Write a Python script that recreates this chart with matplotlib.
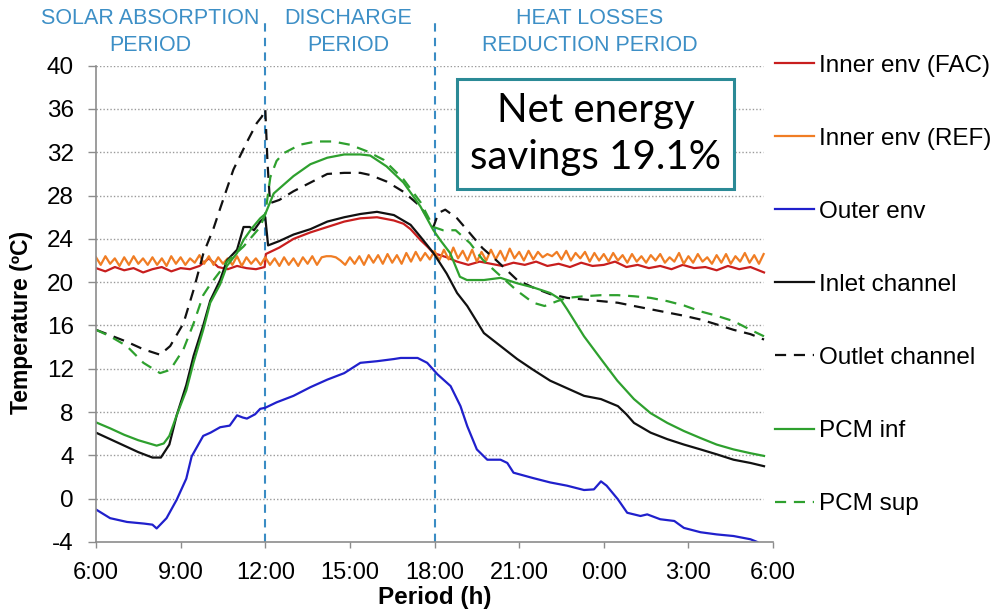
import numpy as np
import matplotlib
matplotlib.use('Agg')
import matplotlib.pyplot as plt

plt.rcParams['font.family'] = ['Liberation Sans', 'DejaVu Sans']
plt.rcParams['axes.unicode_minus'] = False

# time in hours after 6:00
x_ticks = [0, 3, 6, 9, 12, 15, 18, 21, 24]
x_labels = ['6:00', '9:00', '12:00', '15:00', '18:00', '21:00', '0:00', '3:00', '6:00']
y_ticks = list(range(-4, 41, 4))

fac_h = [0, 0.33, 0.67, 1.0, 1.33, 1.67, 2.0, 2.33, 2.67, 3.0, 3.33, 3.67, 4.0, 4.33, 4.67,
         5.0, 5.33, 5.67, 5.98, 6.02, 6.5, 7.0, 7.6, 8.2, 8.8, 9.37, 9.96, 10.56, 10.9,
         11.15, 11.5, 11.74, 11.96, 12.43, 12.8, 13.2, 13.6, 14.0, 14.4, 14.8, 15.2, 15.6,
         16.0, 16.4, 16.8, 17.2, 17.6, 18.0, 18.4, 18.8, 19.2, 19.6, 20.0, 20.4, 20.8,
         21.2, 21.6, 22.0, 22.4, 22.8, 23.2, 23.68]
fac_t = [21.3, 21.0, 21.4, 21.1, 21.3, 20.9, 21.2, 21.4, 21.0, 21.3, 21.2, 21.5, 22.2, 21.4,
         21.2, 21.5, 21.3, 21.2, 21.4, 22.6, 23.2, 24.0, 24.6, 25.1, 25.6, 25.9, 26.0, 25.7,
         25.4, 24.9, 23.9, 23.3, 22.7, 22.3, 21.9, 21.6, 21.9, 21.7, 21.5, 21.8, 21.6, 21.9,
         21.5, 21.7, 21.4, 21.8, 21.5, 21.6, 21.9, 21.4, 21.6, 21.3, 21.5, 21.2, 21.6, 21.3,
         21.4, 21.1, 21.5, 21.2, 21.4, 20.9]

# 10-minute samples
ref_t = [22.3, 21.6, 22.4, 21.7, 22.2, 21.5, 22.3, 21.6, 22.4, 21.7, 22.2, 21.6,
         22.3, 21.6, 22.2, 21.5, 22.4, 21.7, 22.3, 21.6, 22.2, 21.8, 22.5, 21.7,
         22.4, 21.6, 22.3, 21.7, 22.2, 21.6, 22.4, 21.5, 22.3, 21.7, 22.2, 21.6,
         22.3, 21.6, 22.2, 21.5, 22.3, 21.6, 22.2, 21.5, 22.3, 21.7, 22.4, 21.6,
         22.3, 22.4, 22.4, 22.3, 22.0, 21.6, 22.3, 21.7, 22.4, 21.6, 22.5, 21.8,
         22.5, 21.7, 22.6, 21.8, 22.5, 21.7, 22.7, 21.9, 22.8, 22.0, 22.7, 22.1,
         22.9, 22.0, 23.0, 22.1, 23.2, 22.2, 22.9, 22.0, 23.0, 21.9, 22.8, 22.0,
         23.0, 22.1, 22.9, 22.0, 23.1, 22.2, 22.8, 22.0, 22.9, 22.1, 22.8, 22.3,
         22.6, 22.4, 22.8, 22.1, 22.9, 22.0, 22.7, 22.2, 22.8, 21.9, 22.7, 22.0,
         22.6, 21.9, 22.7, 22.0, 22.5, 21.8, 22.6, 21.9, 22.4, 21.8, 22.5, 22.0,
         22.6, 21.8, 22.3, 21.9, 22.7, 21.7, 22.4, 21.8, 22.6, 21.9, 22.3, 21.7,
         22.5, 21.8, 22.6, 21.7, 22.4, 21.9, 22.7, 21.8, 22.5, 21.7, 22.6]
ref_h = np.arange(len(ref_t)) / 6

outer_h = [0, 0.5, 1.1, 1.7, 2.0, 2.15, 2.5, 2.86, 3.2, 3.39, 3.8, 4.06, 4.4, 4.74, 5.0, 5.2,
           5.35, 5.64, 5.82, 6.0, 6.4, 7.0, 7.6, 8.2, 8.8, 9.37, 9.96, 10.56, 10.8, 11.15,
           11.4, 11.74, 12.1, 12.57, 12.92, 13.16, 13.5, 13.87, 14.34, 14.58, 14.8, 15.5,
           16.1, 16.7, 17.3, 17.65, 17.9, 18.1, 18.5, 18.83, 19.3, 19.54, 20.0, 20.5, 20.84,
           21.43, 22.0, 22.6, 23.2, 23.44]
outer_t = [-1.0, -1.8, -2.15, -2.3, -2.4, -2.75, -1.8, -0.1, 1.85, 3.9, 5.8, 6.1, 6.6, 6.75,
           7.7, 7.5, 7.4, 7.8, 8.3, 8.4, 8.9, 9.5, 10.3, 11.0, 11.6, 12.55, 12.7, 12.9, 13.0,
           13.0, 13.0, 12.55, 11.5, 10.4, 8.55, 6.7, 4.55, 3.6, 3.6, 3.3, 2.4, 1.9, 1.5, 1.2,
           0.8, 0.86, 1.6, 1.2, -0.06, -1.3, -1.6, -1.45, -1.9, -2.06, -2.7, -3.1, -3.3,
           -3.45, -3.75, -4.0]

inlet_h = [0, 0.5, 1.0, 1.5, 2.0, 2.3, 2.6, 2.86, 3.2, 3.46, 3.8, 4.05, 4.4, 4.64, 5.0, 5.23,
           5.45, 5.6, 5.82, 6.0, 6.1, 6.5, 7.0, 7.6, 8.2, 8.8, 9.37, 9.96, 10.56, 11.15, 11.5,
           11.96, 12.43, 12.8, 13.16, 13.75, 14.34, 14.93, 15.5, 16.1, 16.7, 17.3, 17.9,
           18.5, 18.8, 19.07, 19.66, 20.25, 20.84, 21.43, 22.0, 22.6, 23.2, 23.68]
inlet_t = [6.1, 5.5, 4.9, 4.3, 3.8, 3.8, 5.0, 7.7, 10.5, 13.2, 16.0, 18.3, 20.2, 22.0, 23.0,
           25.1, 25.1, 24.8, 25.6, 26.0, 23.4, 23.8, 24.4, 24.9, 25.6, 26.0, 26.3, 26.5, 26.2,
           25.3, 24.2, 22.7, 20.8, 19.0, 17.8, 15.3, 14.1, 12.9, 11.9, 10.9, 10.2, 9.5, 9.2,
           8.55, 7.8, 7.0, 6.1, 5.5, 5.0, 4.55, 4.1, 3.6, 3.3, 3.0]

outlet_h = [0, 0.5, 1.09, 1.68, 2.27, 2.63, 3.1, 3.46, 3.8, 4.17, 4.4, 4.87, 5.34, 5.7, 5.88,
            6.0, 6.08, 6.17, 6.5, 7.0, 7.6, 8.2, 8.8, 9.37, 9.72, 10.3, 10.9, 11.5, 11.96,
            12.14, 12.38, 12.8, 13.26, 13.7, 14.2, 14.93, 15.5, 16.1, 16.7, 17.3, 17.9, 18.5,
            19.07, 19.66, 20.25, 20.84, 21.43, 22.0, 22.6, 23.2, 23.68]
outlet_t = [15.6, 15.1, 14.5, 13.8, 13.3, 14.1, 16.2, 19.3, 22.6, 25.0, 26.8, 30.4, 32.9, 34.7,
            35.3, 36.0, 31.0, 27.3, 27.6, 28.4, 29.2, 30.0, 30.1, 30.1, 29.9, 29.3, 28.35,
            27.0, 25.1, 26.4, 26.7, 25.9, 24.5, 23.15, 22.0, 20.2, 19.5, 18.9, 18.55, 18.4,
            18.25, 18.1, 17.8, 17.5, 17.2, 16.9, 16.55, 16.1, 15.6, 15.2, 14.7]

inf_h = [0, 0.5, 1.0, 1.5, 2.15, 2.4, 2.6, 2.86, 3.2, 3.46, 3.8, 4.05, 4.4, 4.64, 5.0, 5.23,
         5.5, 5.82, 6.0, 6.3, 7.0, 7.6, 8.2, 8.8, 9.37, 9.72, 10.3, 10.9, 11.5, 11.96, 12.2,
         12.55, 12.9, 13.15, 13.75, 14.34, 14.93, 15.52, 16.1, 16.47, 16.7, 17.3, 17.9,
         18.48, 19.07, 19.66, 20.25, 20.84, 21.43, 22.0, 22.6, 23.2, 23.68]
inf_t = [7.05, 6.5, 5.9, 5.4, 4.9, 5.1, 5.8, 7.7, 10.0, 12.6, 15.6, 18.1, 19.8, 21.5, 22.7,
         23.9, 24.9, 25.9, 26.3, 28.2, 29.8, 30.9, 31.5, 31.8, 31.8, 31.7, 30.7, 29.2, 27.0,
         24.8, 23.9, 22.7, 20.5, 20.2, 20.2, 20.4, 19.9, 19.5, 19.0, 18.4, 17.5, 15.0, 12.9,
         10.9, 9.2, 7.9, 7.0, 6.25, 5.6, 5.0, 4.55, 4.2, 3.95]

sup_h = [0, 0.5, 1.09, 1.68, 2.27, 2.63, 3.1, 3.46, 3.8, 4.05, 4.4, 4.64, 5.23, 5.82, 6.0,
         6.18, 6.4, 6.64, 7.23, 7.8, 8.4, 9.0, 9.6, 10.2, 10.9, 11.5, 11.96, 12.3, 12.75,
         13.26, 13.7, 14.2, 14.93, 15.5, 15.9, 16.35, 16.7, 17.3, 17.9, 18.5, 19.07, 19.66,
         20.25, 20.84, 21.43, 22.0, 22.6, 23.2, 23.68]
sup_t = [15.6, 15.0, 14.1, 12.55, 11.6, 11.9, 13.8, 16.2, 18.8, 19.8, 21.0, 21.9, 23.3, 25.1,
         26.3, 29.7, 31.2, 31.9, 32.7, 33.0, 33.0, 32.7, 32.1, 31.3, 29.5, 27.4, 25.1, 24.8,
         24.8, 23.6, 22.1, 20.9, 19.2, 18.1, 17.8, 18.25, 18.55, 18.7, 18.8, 18.8, 18.7,
         18.55, 18.25, 17.85, 17.3, 16.9, 16.4, 15.6, 15.0]

fig = plt.figure(figsize=(9.98, 6.14), dpi=100)
ax = fig.add_axes([0.0962, 0.1173, 0.6784, 0.7757])

lw = 1.6
ax.plot(fac_h, fac_t, color='#c81e1e', lw=lw, label='Inner env (FAC)')
ax.plot(ref_h, ref_t, color='#f07d24', lw=lw, label='Inner env (REF)')
ax.plot(outer_h, outer_t, color='#2020cc', lw=lw, label='Outer env')
ax.plot(inlet_h, inlet_t, color='#111111', lw=lw, label='Inlet channel')
ax.plot(outlet_h, outlet_t, color='#111111', lw=lw, ls=(0, (5, 3.5)), label='Outlet channel')
ax.plot(inf_h, inf_t, color='#2ea02e', lw=lw, label='PCM inf')
ax.plot(sup_h, sup_t, color='#2ea02e', lw=lw, ls=(0, (5, 3.5)), label='PCM sup')

# horizontal dotted grid
ax.hlines(y_ticks[1:], 0, 23.65, colors='#9a9a9a', lw=1.0, ls=(0, (1, 1.5)), zorder=0)

# period separators
for xv in [6, 12]:
    ax.axvline(xv, ymin=0, ymax=1.10, color='#3a8cc4', lw=1.5, ls=(0, (4, 3)),
               clip_on=False, zorder=1)

ax.set_xlim(0, 24)
ax.set_ylim(-4, 40)
ax.set_xticks(x_ticks)
ax.set_xticklabels(x_labels)
ax.set_yticks(y_ticks)
for s in ['top', 'right']:
    ax.spines[s].set_visible(False)
for s in ['left', 'bottom']:
    ax.spines[s].set_color('#8c8c8c')
    ax.spines[s].set_linewidth(1.2)
ax.tick_params(axis='y', direction='out', length=6, width=1, color='#8c8c8c',
               labelsize=17.5, pad=10)
ax.tick_params(axis='x', direction='out', length=4.5, width=1, color='#8c8c8c',
               labelsize=17, pad=10)

ax.set_xlabel('Period (h)', fontsize=17.5, fontweight='bold')
ax.xaxis.set_label_coords(0.5, -0.092)
ax.xaxis.label.set_va('top')
ax.set_ylabel('Temperature (ºC)', fontsize=16.5, fontweight='bold')
ax.yaxis.set_label_coords(-0.093, 0.46)

# period titles
top_col = '#3d8fc6'
for xc, txt in [(1.91, 'SOLAR ABSORPTION\nPERIOD'), (8.94, 'DISCHARGE\nPERIOD'),
                (17.5, 'HEAT LOSSES\nREDUCTION PERIOD')]:
    ax.text(xc, 1.071, txt, transform=ax.get_xaxis_transform(), ha='center',
            va='center', fontsize=15.5, color=top_col, linespacing=1.4)

# savings box
ax.text(17.71, 33.7, 'Net energy\nsavings 19.1%', ha='center', va='center',
        fontsize=29, family=['Lato', 'DejaVu Sans'], linespacing=1.35,
        bbox=dict(boxstyle='square,pad=0.32', fc='white', ec='#2b8a96', lw=2.2))

leg = ax.legend(loc='upper left', bbox_to_anchor=(1.003, 1.023), frameon=False,
                fontsize=17.5, handlelength=1.6, handletextpad=0.2,
                labelspacing=2.1, borderaxespad=0, borderpad=0)

fig.savefig('out.png', dpi=100)
